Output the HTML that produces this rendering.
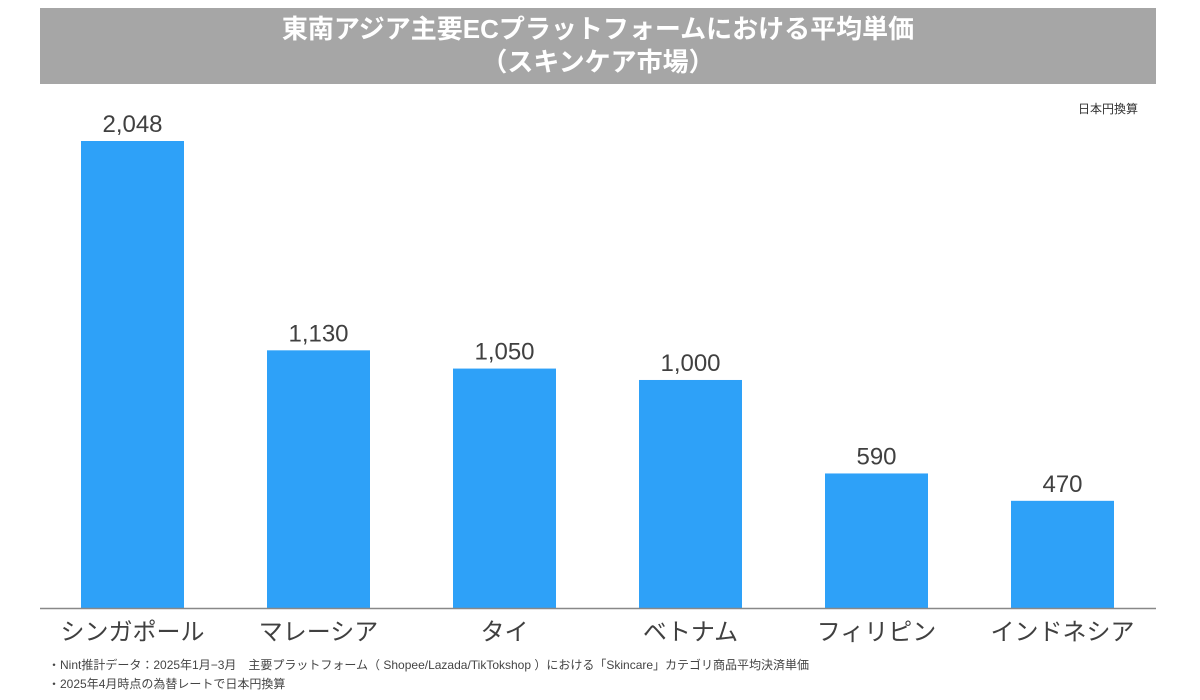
<!DOCTYPE html>
<html><head><meta charset="utf-8"><style>
body{margin:0;width:1200px;height:700px;background:#fff;font-family:"Liberation Sans","Noto Sans CJK JP",sans-serif;overflow:hidden;position:relative}
.title{position:absolute;left:40px;top:8px;width:1116px;height:76px;background:#a6a6a6;color:#fff;text-align:center;font-size:26px;font-weight:bold;line-height:33px;padding-top:5px;box-sizing:border-box}
.note{position:absolute;left:48px;font-size:12px;color:#444}
</style></head><body>
<div class="title">東南アジア主要ECプラットフォームにおける平均単価<br>（スキンケア市場）</div>
<div style="position:absolute;right:62px;top:100px;font-size:12px;color:#333">日本円換算</div>
<svg id="c" width="1200" height="700" style="position:absolute;left:0;top:0"></svg>
<div class="note" style="top:656px">・Nint推計データ：2025年1月−3月　主要プラットフォーム（ Shopee/Lazada/TikTokshop ）における「Skincare」カテゴリ商品平均決済単価</div>
<div class="note" style="top:675px">・2025年4月時点の為替レートで日本円換算</div>
<script>
const categories=["シンガポール","マレーシア","タイ","ベトナム","フィリピン","インドネシア"];
const values=[2048,1130,1050,1000,590,470];
const labels=["2,048","1,130","1,050","1,000","590","470"];
const svg=document.getElementById('c');const NS="http://www.w3.org/2000/svg";
const base=608,scale=467/2048;
function y(v){return base-v*scale;}
function xb(i){return 81+i*186;}
categories.forEach((c,i)=>{
 const r=document.createElementNS(NS,'rect');
 r.setAttribute('x',xb(i));r.setAttribute('y',y(values[i]));r.setAttribute('width',103);r.setAttribute('height',base-y(values[i]));r.setAttribute('fill','#2ea1f8');
 
 
 svg.appendChild(r);
 const t=document.createElementNS(NS,'text');
 t.setAttribute('x',xb(i)+51.5);t.setAttribute('y',y(values[i])-9);t.setAttribute('text-anchor','middle');t.setAttribute('font-size','24');t.setAttribute('fill','#404040');t.textContent=labels[i];
 
 
 svg.appendChild(t);
 const l=document.createElementNS(NS,'text');
 l.setAttribute('x',xb(i)+51.5);l.setAttribute('y',640);l.setAttribute('text-anchor','middle');l.setAttribute('font-size','24');l.setAttribute('fill','#404040');l.textContent=c;
 
 
 svg.appendChild(l);
});
const ax=document.createElementNS(NS,'line');
ax.setAttribute('x1',40);ax.setAttribute('x2',1156);ax.setAttribute('y1',base+0.5);ax.setAttribute('y2',base+0.5);ax.setAttribute('stroke','#888');ax.setAttribute('stroke-width','1.5');


svg.appendChild(ax);
</script>
</body></html>
